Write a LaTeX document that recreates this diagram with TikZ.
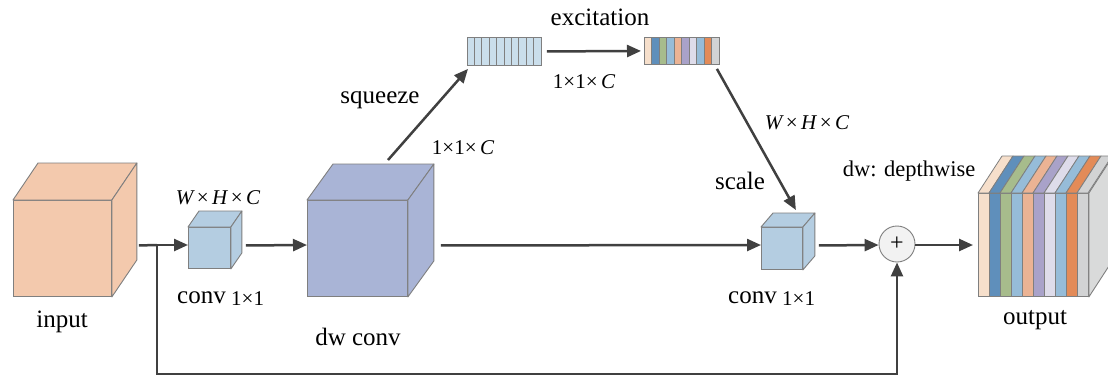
\documentclass[tikz,border=0pt]{standalone}
\usepackage{fontspec}
\setmainfont{Liberation Serif}
\newfontfamily\tnr{Liberation Serif}
\usetikzlibrary{arrows.meta}
\definecolor{arrc}{HTML}{404040}
\definecolor{edgec}{HTML}{7F7F7F}
\definecolor{inc}{HTML}{F3C9AD}
\definecolor{dwc}{HTML}{A9B4D6}
\definecolor{convc}{HTML}{B4CDE1}
\definecolor{sqc}{HTML}{CADEEB}
\definecolor{cA}{HTML}{F6DFCB}
\definecolor{cB}{HTML}{5F8FBB}
\definecolor{cC}{HTML}{A7BC8C}
\definecolor{cD}{HTML}{96BCD8}
\definecolor{cE}{HTML}{EBB394}
\definecolor{cF}{HTML}{A9A2C9}
\definecolor{cG}{HTML}{DEDCEA}
\definecolor{cH}{HTML}{96BCD8}
\definecolor{cI}{HTML}{E38B58}
\definecolor{cJ}{HTML}{D2D3D4}
\definecolor{plusc}{HTML}{F2F2F2}
\tikzset{
  front/.style={draw=edgec, line width=0.9pt, inner sep=0pt, anchor=north west},
  cubeedge/.style={draw=edgec, line width=0.9pt, line join=round},
  arr/.style={draw=arrc, line width=2.5pt, -{Triangle[length=14pt,width=12pt]}},
  plainline/.style={draw=arrc, line width=2.5pt},
  lbl/.style={inner sep=0pt, font=\tnr\fontsize{25}{28}\selectfont},
  small/.style={inner sep=0pt, font=\tnr\fontsize{21}{24}\selectfont},
}
\newcommand\cubefaces[4]{%
  \filldraw[cubeedge, fill=#4] (#1.north west) -- ++(#2,#3) -- ([shift={(#2,#3)}]#1.north east) -- (#1.north east) -- cycle;
  \filldraw[cubeedge, fill=#4] (#1.north east) -- ++(#2,#3) -- ([shift={(#2,#3)}]#1.south east) -- (#1.south east) -- cycle;}
\begin{document}
\begin{tikzpicture}[x=1pt, y=-1pt]
\useasboundingbox (0,0) rectangle (1108,376);
\fill[white] (0,0) rectangle (1108,376);

% input cube
\node[front, fill=inc, minimum width=98pt, minimum height=96pt] (in) at (13,200) {};
\cubefaces{in}{25}{-37}{inc}
% conv 1x1 (first)
\node[front, fill=convc, minimum width=42pt, minimum height=41pt] (conva) at (188,227) {};
\cubefaces{conva}{11}{-16}{convc}
% dw conv cube
\node[front, fill=dwc, minimum width=100pt, minimum height=96pt] (dw) at (307,200) {};
\cubefaces{dw}{26}{-36}{dwc}
% conv 1x1 (scale)
\node[front, fill=convc, minimum width=41pt, minimum height=42pt] (convb) at (761,227) {};
\cubefaces{convb}{12}{-14}{convc}

% squeeze strip
\node[front, fill=sqc, minimum width=74pt, minimum height=28pt] (sq) at (467,37) {};
\foreach \i in {1,...,9} {\draw[draw=edgec, line width=0.7pt] (467+7.4*\i,37) -- (467+7.4*\i,65);}
% excitation strip
\node[front, minimum width=75pt, minimum height=27pt] (ex) at (644,37) {};
\foreach \c [count=\i from 0] in {cA,cB,cC,cD,cE,cF,cG,cH,cI,cJ} {
  \filldraw[fill=\c, draw=edgec, line width=0.7pt] (644+7.5*\i,37) rectangle (644+7.5*\i+7.5,64);}
\draw[draw=edgec, line width=0.9pt] (ex.north west) rectangle (ex.south east);

% output block
\node[front, minimum width=110pt, minimum height=103pt] (out) at (978,193) {};
\foreach \c [count=\i from 0] in {cA,cB,cC,cD,cE,cF,cG,cH,cI,cJ} {
  \filldraw[fill=\c, draw=edgec, line width=0.8pt] (978+11*\i,193) rectangle (978+11*\i+11,296);
  \filldraw[fill=\c, draw=edgec, line width=0.8pt, line join=round] (978+11*\i,193) -- ++(24,-37) -- ++(11,0) -- (978+11*\i+11,193) -- cycle;}
\filldraw[cubeedge, fill=cJ!85!white] (out.north east) -- ++(24,-37) -- ([shift={(24,-37)}]out.south east) -- (out.south east) -- cycle;

% plus
\node[circle, draw=edgec, line width=0.9pt, fill=plusc, minimum size=36pt, inner sep=0pt, font=\tnr\fontsize{24}{24}\selectfont] (plus) at (897,244) {+};

% connectors
\coordinate (split) at (157,245);
\coordinate (low) at (157,374);
\draw[plainline] ([xshift=27pt,yshift=3pt]in.east) -- (split);
\draw[arr] (split) -- (conva.west |- split);
\draw[arr] ([xshift=15pt,yshift=2.5pt]conva.east) -- (dw.west |- split);
\draw[arr] ([xshift=33pt,yshift=3pt]dw.east) -- (convb.west |- split);
\draw[arr] ([xshift=16pt,yshift=3pt]convb.east) -- (plus.west |- split);
\draw[arr] (plus.east |- split) -- ([xshift=-5pt]out.west |- split);
\draw[arr] (split) -- (low) -- (plus.south |- low) -- (plus.south);
\coordinate (sqstart) at (388,160);
\draw[arr] (sqstart) -- ([shift={(1pt,-3pt)}]sq.south west);
\draw[arr] ([xshift=5pt]sq.east) -- ([xshift=-3pt]ex.west);
\draw[arr] ([shift={(-3pt,-4pt)}]ex.south east) -- ([xshift=-7pt,yshift=17pt]convb.north east);

% labels
\node[lbl] (tin) at (62,322) {input};
\node[lbl, anchor=east] (tca) at (226,298) {conv};
\node[small, anchor=west] at (231,299) {1×1};
\node[small] (whca) at (218,198) {\itshape W\,\upshape×\,\itshape H\,\upshape×\,\itshape C};
\node[lbl] (tdw) at (358,337) {dw conv};
\node[lbl] (tsq) at (380,100) {squeeze};
\node[small] (t11a) at (463,148) {1×1×\,\itshape C};
\node[lbl] (tex) at (600,17) {excitation};
\node[small] (t11b) at (584,82) {1×1×\,\itshape C};
\node[small] (whcb) at (807,123) {\itshape W\,\upshape×\,\itshape H\,\upshape×\,\itshape C};
\node[lbl] (tsc) at (740,181) {scale};
\node[inner sep=0pt, font=\tnr\fontsize{22.5}{24}\selectfont] (tdwd) at (909,171) {dw: depthwise};
\node[lbl, anchor=east] (tcb) at (777,298) {conv};
\node[small, anchor=west] at (782,299) {1×1};
\node[lbl] (tout) at (1035,320) {output};
\end{tikzpicture}
\end{document}
